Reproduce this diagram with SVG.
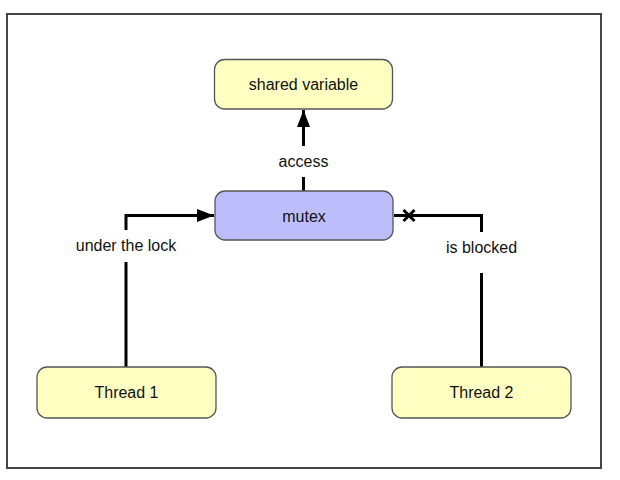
<svg xmlns="http://www.w3.org/2000/svg" width="620" height="480" viewBox="0 0 620 480">
<defs>
<style>
.frame{fill:#fff;stroke:#444;stroke-width:2}
.node{stroke:#555;stroke-width:1.3}
.yellow{fill:#ffffc2}
.blue{fill:#bdbdfb}
.lbl{font-family:"Liberation Sans",Arial,Helvetica,sans-serif;font-size:16px;fill:#111;text-anchor:middle}
.edge{fill:none;stroke:#000;stroke-width:3}
.bg{fill:#fff}
</style>
<marker id="arrow" viewBox="0 0 17 13" refX="17" refY="6.5" markerWidth="17" markerHeight="13" markerUnits="userSpaceOnUse" orient="auto">
<path d="M0,0 L17,6.5 L0,13 Z" fill="#000"/>
</marker>
</defs>
<rect class="frame" x="7" y="14" width="594" height="454"/>
<g id="connectors">
<path class="edge" d="M303.5,191 L303.5,110" marker-end="url(#arrow)"/>
<rect class="bg" x="270" y="146" width="67" height="31"/>
<text class="lbl" x="303.5" y="167">access</text>
<path class="edge" d="M126,367 L126,215.5 L214,215.5" marker-end="url(#arrow)"/>
<rect class="bg" x="66" y="230" width="120" height="32"/>
<text class="lbl" x="126" y="251">under the lock</text>
<path class="edge" d="M481.5,367 L481.5,215.5 L394,215.5"/>
<path d="M403.5,210 L414.5,221 M414.5,210 L403.5,221" stroke="#000" stroke-width="3" fill="none"/>
<rect class="bg" x="438" y="232" width="88" height="41"/>
<text class="lbl" x="481.5" y="253">is blocked</text>
</g>
<g id="shared-variable">
<rect class="node yellow" x="214.5" y="59.5" width="178" height="49.5" rx="10"/>
<text class="lbl" x="303.5" y="90">shared variable</text>
</g>
<g id="mutex">
<rect class="node blue" x="215" y="191" width="178" height="49" rx="10"/>
<text class="lbl" x="304" y="222">mutex</text>
</g>
<g id="thread1">
<rect class="node yellow" x="37" y="367" width="179" height="51" rx="10"/>
<text class="lbl" x="126.5" y="398">Thread 1</text>
</g>
<g id="thread2">
<rect class="node yellow" x="392" y="367" width="179" height="51" rx="10"/>
<text class="lbl" x="481.5" y="398">Thread 2</text>
</g>
</svg>
